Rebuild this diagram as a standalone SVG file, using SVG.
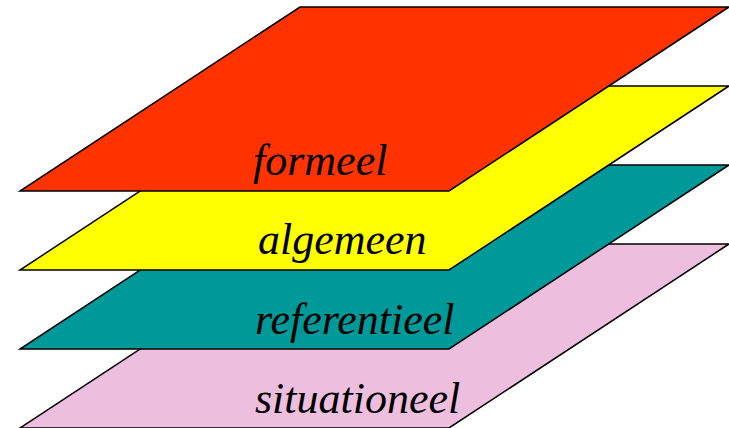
<svg xmlns="http://www.w3.org/2000/svg" width="729" height="428" viewBox="0 0 729 428">
<style>
.plane{stroke:#000;stroke-width:1.5;stroke-linejoin:miter}
.lbl{font-family:"Liberation Serif","Times New Roman",serif;font-style:italic;font-size:44px;fill:#000}
</style>
<rect width="729" height="428" fill="#fff"/>
<g id="situationeel">
<polygon class="plane" fill="#EEBEDE" points="300,244 729,244 449,428 20,428"/>
<text class="lbl" x="255" y="413">situationeel</text>
</g>
<g id="referentieel">
<polygon class="plane" fill="#009999" points="300,165 729,165 449,349 20,349"/>
<text class="lbl" x="255" y="334">referentieel</text>
</g>
<g id="algemeen">
<polygon class="plane" fill="#FFFF00" points="300,86 729,86 449,270 20,270"/>
<text class="lbl" x="258" y="254">algemeen</text>
</g>
<g id="formeel">
<polygon class="plane" fill="#FF3300" points="300,7 729,7 449,191 20,191"/>
<text class="lbl" x="253" y="175">formeel</text>
</g>
<g id="connectors"/>
</svg>
